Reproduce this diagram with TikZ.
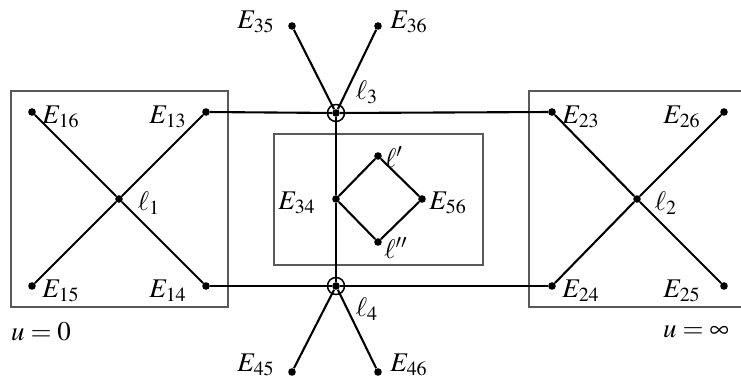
\documentclass[tikz,border=0pt]{standalone}
\usepackage{mathptmx}
\usepackage{tikz}
\tikzstyle{vert} = [circle,fill=black,draw=none,inner sep=0pt,minimum size=3.8pt]
\tikzstyle{ring} = [circle,draw=black,line width=0.75pt,inner sep=0pt,minimum size=8.5pt]
\tikzstyle{lbl} = [inner sep=0pt, font=\fontsize{13.5}{15}\selectfont]
\tikzstyle{patch} = [draw=black!65,line width=0.6pt]
\newcommand{\seg}[3][]{ %
  % Join all nodes #2 to all nodes #3.
  \foreach \x in {#2} { %
    \foreach \y in {#3} { %
      \path (\x) edge [line width=1.05pt, #1] (\y) ;%
    } ;
  } ;
}

\begin{document}
\begin{tikzpicture}[x=0.5pt,y=-0.5pt]
  \useasboundingbox (0,0) rectangle (741,380);
  % boxes
  \draw[patch] (11,91) rectangle (228,307);
  \draw[patch] (529,91) rectangle (746,307);
  \draw[patch] (274,134) rectangle (483,265);
  % left chart, u=0
  \node[vert](l1) at (119,199) {};
  \node[vert](E16) at (32,112) {};
  \node[vert](E13) at (206,112) {};
  \node[vert](E15) at (32,286) {};
  \node[vert](E14) at (206,286) {};
  % right chart, u=infinity
  \node[vert](l2) at (637,199) {};
  \node[vert](E23) at (552,112) {};
  \node[vert](E26) at (724,112) {};
  \node[vert](E24) at (552,286) {};
  \node[vert](E25) at (724,286) {};
  % middle
  \node[vert](l3) at (336,113) {};
  \node[ring](r3) at (336,113) {};
  \node[vert](l4) at (336,286) {};
  \node[ring](r4) at (336,286) {};
  \node[vert](E35) at (292,26) {};
  \node[vert](E36) at (378,26) {};
  \node[vert](E45) at (292,372) {};
  \node[vert](E46) at (378,372) {};
  \node[vert](E34) at (336,199) {};
  \node[vert](lp) at (378,156) {};
  \node[vert](E56) at (422,199) {};
  \node[vert](lpp) at (378,242) {};
  % labels
  \node[lbl](tE16) at (61,117) {$E_{16}$};
  \node[lbl](tE13) at (168,117) {$E_{13}$};
  \node[lbl](tl1) at (149,203) {$\ell_1$};
  \node[lbl](tE15) at (61,291) {$E_{15}$};
  \node[lbl](tE14) at (168,291) {$E_{14}$};
  \node[lbl](tE23) at (581,117) {$E_{23}$};
  \node[lbl](tE26) at (682,117) {$E_{26}$};
  \node[lbl](tl2) at (666,203) {$\ell_2$};
  \node[lbl](tE24) at (581,291) {$E_{24}$};
  \node[lbl](tE25) at (682,291) {$E_{25}$};
  \node[lbl](tE35) at (256,22) {$E_{35}$};
  \node[lbl](tE36) at (409,22) {$E_{36}$};
  \node[lbl](tl3) at (367,92) {$\ell_3$};
  \node[lbl](tl4) at (367,309) {$\ell_4$};
  \node[lbl](tE45) at (256,365) {$E_{45}$};
  \node[lbl](tE46) at (409,365) {$E_{46}$};
  \node[lbl](tE34) at (297,203) {$E_{34}$};
  \node[lbl](tE56) at (448,203) {$E_{56}$};
  \node[lbl](tlp) at (394,157) {$\ell'$};
  \node[lbl](tlpp) at (396,248) {$\ell''$};
  \node[lbl](u0) at (41,332) {$u=0$};
  \node[lbl](uinf) at (696,332) {$u=\infty$};
  % lines
  \seg{l1}{E16,E13,E15,E14};
  \seg{l2}{E23,E26,E24,E25};
  \seg{l3}{E13,E23,E35,E36,E34};
  \seg{l4}{E14,E24,E45,E46,E34};
  \seg{E34}{lp,lpp};
  \seg{E56}{lp,lpp};
\end{tikzpicture}
\end{document}
